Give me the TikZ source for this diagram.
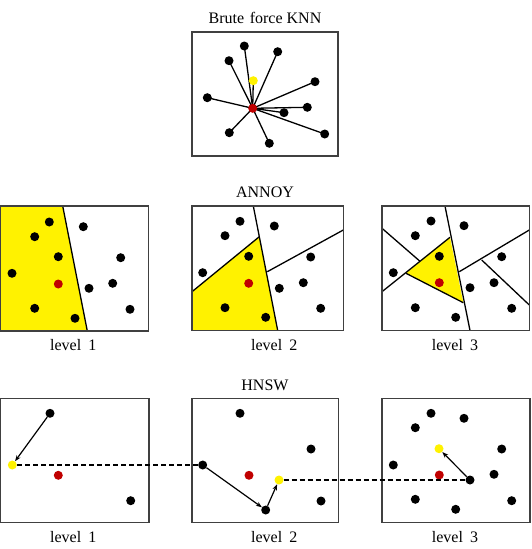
\documentclass[tikz,border=0pt]{standalone}
\usepackage{fontspec}
\setmainfont{Liberation Serif}
\usetikzlibrary{arrows.meta,backgrounds}
\definecolor{dotred}{HTML}{C00000}
\definecolor{framegray}{HTML}{404040}
\begin{document}
\begin{tikzpicture}[x=1pt,y=-1pt,
  dot/.style={circle,fill=black,inner sep=0pt,minimum size=9pt},
  rdot/.style={dot,fill=dotred},
  ydot/.style={dot,fill=yellow},
  frame/.style={draw=framegray,line width=1.1pt},
  cut/.style={line width=1.3pt},
  ray/.style={line width=1.3pt},
  arr/.style={line width=1.2pt,-{Stealth[length=6pt,width=4.5pt]}},
  hop/.style={line width=1.5pt,dash pattern=on 5pt off 3pt},
  lbl/.style={font=\fontsize{16}{18}\selectfont,inner sep=0pt}]
\useasboundingbox (0,0) rectangle (532,549);

% ---------- Brute force KNN ----------
\node[lbl] (t1) at (265,18) {Brute\hspace{0.35em}force KNN};
\draw[frame] (192,32) rectangle (338,156);
\node[rdot] (br) at (252.7,108.3) {};
\node[ydot] (by) at (253.3,80.7) {};
\node[dot] (b1) at (244.3,46) {};
\node[dot] (b2) at (277.7,51.7) {};
\node[dot] (b3) at (229,60.7) {};
\node[dot] (b4) at (315,81.7) {};
\node[dot] (b5) at (207.3,97.7) {};
\node[dot] (b6) at (307.3,107.3) {};
\node[dot] (b7) at (284,112.7) {};
\node[dot] (b8) at (229.3,132.7) {};
\node[dot] (b9) at (269.3,143.3) {};
\node[dot] (b10) at (324.7,134) {};
\begin{pgfonlayer}{background}
  \foreach \n in {by,b1,b2,b3,b4,b5,b6,b7,b8,b9,b10}
    \draw[ray] (br.center) -- (\n.center);
\end{pgfonlayer}

% ---------- ANNOY ----------
\node[lbl] (t2) at (265,192.7) {ANNOY};

% level 1
\fill[yellow] (0.5,206) -- (62.7,206) -- (87.3,331) -- (0.5,331) -- cycle;
\draw[cut] (62.7,206) -- (87.3,331);
\draw[frame] (0.5,206) rectangle (148.3,331);
\node[dot] at (49.3,222) {};
\node[dot] at (34.7,236.7) {};
\node[dot] at (58.3,256.7) {};
\node[dot] at (12,273.3) {};
\node[rdot] (a1r) at (58.3,284) {};
\node[dot] at (34.7,308.3) {};
\node[dot] at (75,318.3) {};
\node[dot] at (83.3,226.7) {};
\node[dot] at (120.7,257.7) {};
\node[dot] at (112.7,283.3) {};
\node[dot] at (89,288.3) {};
\node[dot] at (130,309.3) {};
\node[lbl] (l1a) at (73.3,345) {level\hspace{0.45em}1};

% level 2
\fill[yellow] (192,291.7) -- (259.3,236.7) -- (277.7,330.5) -- (192,330.5) -- cycle;
\draw[cut] (253.3,206) -- (277.7,330.5);
\draw[cut] (192,291.7) -- (259.3,236.7);
\draw[cut] (267.3,271.7) -- (343.3,230);
\draw[frame] (192,206) rectangle (343.3,330.5);
\node[dot] at (240,221.3) {};
\node[dot] at (225,235.7) {};
\node[dot] at (274.3,226) {};
\node[dot] at (248.7,256.3) {};
\node[dot] at (202.7,272.7) {};
\node[rdot] (a2r) at (248.7,283.3) {};
\node[dot] at (310.7,257) {};
\node[dot] at (303.3,282.7) {};
\node[dot] at (279.3,288.3) {};
\node[dot] at (225,307.7) {};
\node[dot] at (265.7,317.3) {};
\node[dot] at (320.7,308.3) {};
\node[lbl] (l2a) at (274.3,345) {level\hspace{0.45em}2};

% level 3
\fill[yellow] (450,237.3) -- (406,273.3) -- (463.3,302.7) -- cycle;
\draw[cut] (445,206) -- (470,330.5);
\draw[cut] (382,291.7) -- (450,237.3);
\draw[cut] (382,228.3) -- (420,261.3);
\draw[cut] (406,273.3) -- (463.3,302.7);
\draw[cut] (459.3,271.7) -- (529.3,230);
\draw[cut] (481.7,260) -- (529.3,305);
\draw[frame] (382,206) rectangle (529.3,330.5);
\node[dot] at (431,221) {};
\node[dot] at (415.3,235.7) {};
\node[dot] at (464,225.7) {};
\node[dot] at (439.3,256.3) {};
\node[dot] at (393.3,272.7) {};
\node[rdot] (a3r) at (439.3,282.7) {};
\node[dot] at (501.7,256.7) {};
\node[dot] at (494,282.7) {};
\node[dot] at (470,287.7) {};
\node[dot] at (415.3,307.7) {};
\node[dot] at (455.7,317.3) {};
\node[dot] at (511.7,308.3) {};
\node[lbl] (l3a) at (455,345) {level\hspace{0.45em}3};

% ---------- HNSW ----------
\node[lbl] (t3) at (265,385) {HNSW};

% level 1
\draw[frame] (0.5,398.3) rectangle (149,522.5);
\node[dot] (h1a) at (50,413.3) {};
\node[ydot] (h1y) at (12.3,465) {};
\node[rdot] (h1r) at (58.3,475.3) {};
\node[dot] (h1b) at (130.7,500.7) {};
\node[lbl] (l1h) at (73.3,537.2) {level\hspace{0.45em}1};

% level 2
\draw[frame] (192,398.3) rectangle (338.3,522.5);
\node[dot] (h2a) at (240,413.3) {};
\node[dot] (h2b) at (311,449) {};
\node[dot] (h2e) at (202.7,465) {};
\node[rdot] (h2r) at (249,475.3) {};
\node[ydot] (h2y) at (279,480) {};
\node[dot] (h2c) at (321,501) {};
\node[dot] (h2d) at (265.7,510) {};
\node[lbl] (l2h) at (274.3,537.2) {level\hspace{0.45em}2};

% level 3
\draw[frame] (382,398.3) rectangle (530,522.5);
\node[dot] (h3a) at (431,413.3) {};
\node[dot] (h3b) at (464,418.3) {};
\node[dot] (h3c) at (415.3,427.7) {};
\node[ydot] (h3y) at (439,448.7) {};
\node[dot] (h3d) at (501.7,449) {};
\node[dot] (h3f) at (393.3,465) {};
\node[rdot] (h3r) at (439.3,475) {};
\node[dot] (h3e) at (470,480) {};
\node[dot] (h3g) at (494,474.3) {};
\node[dot] (h3h) at (415.3,499.3) {};
\node[dot] (h3i) at (511.7,500.7) {};
\node[dot] (h3j) at (455.7,509.3) {};
\node[lbl] (l3h) at (455,537.2) {level\hspace{0.45em}3};

% search path
\draw[arr] (h1a) -- (h1y);
\draw[hop] (h1y) -- (h2e);
\draw[arr] (h2e) -- (h2d);
\draw[arr] (h2d) -- (h2y);
\draw[hop] (h2y) -- (h3e);
\draw[arr] (h3e) -- (h3y);
\end{tikzpicture}
\end{document}
